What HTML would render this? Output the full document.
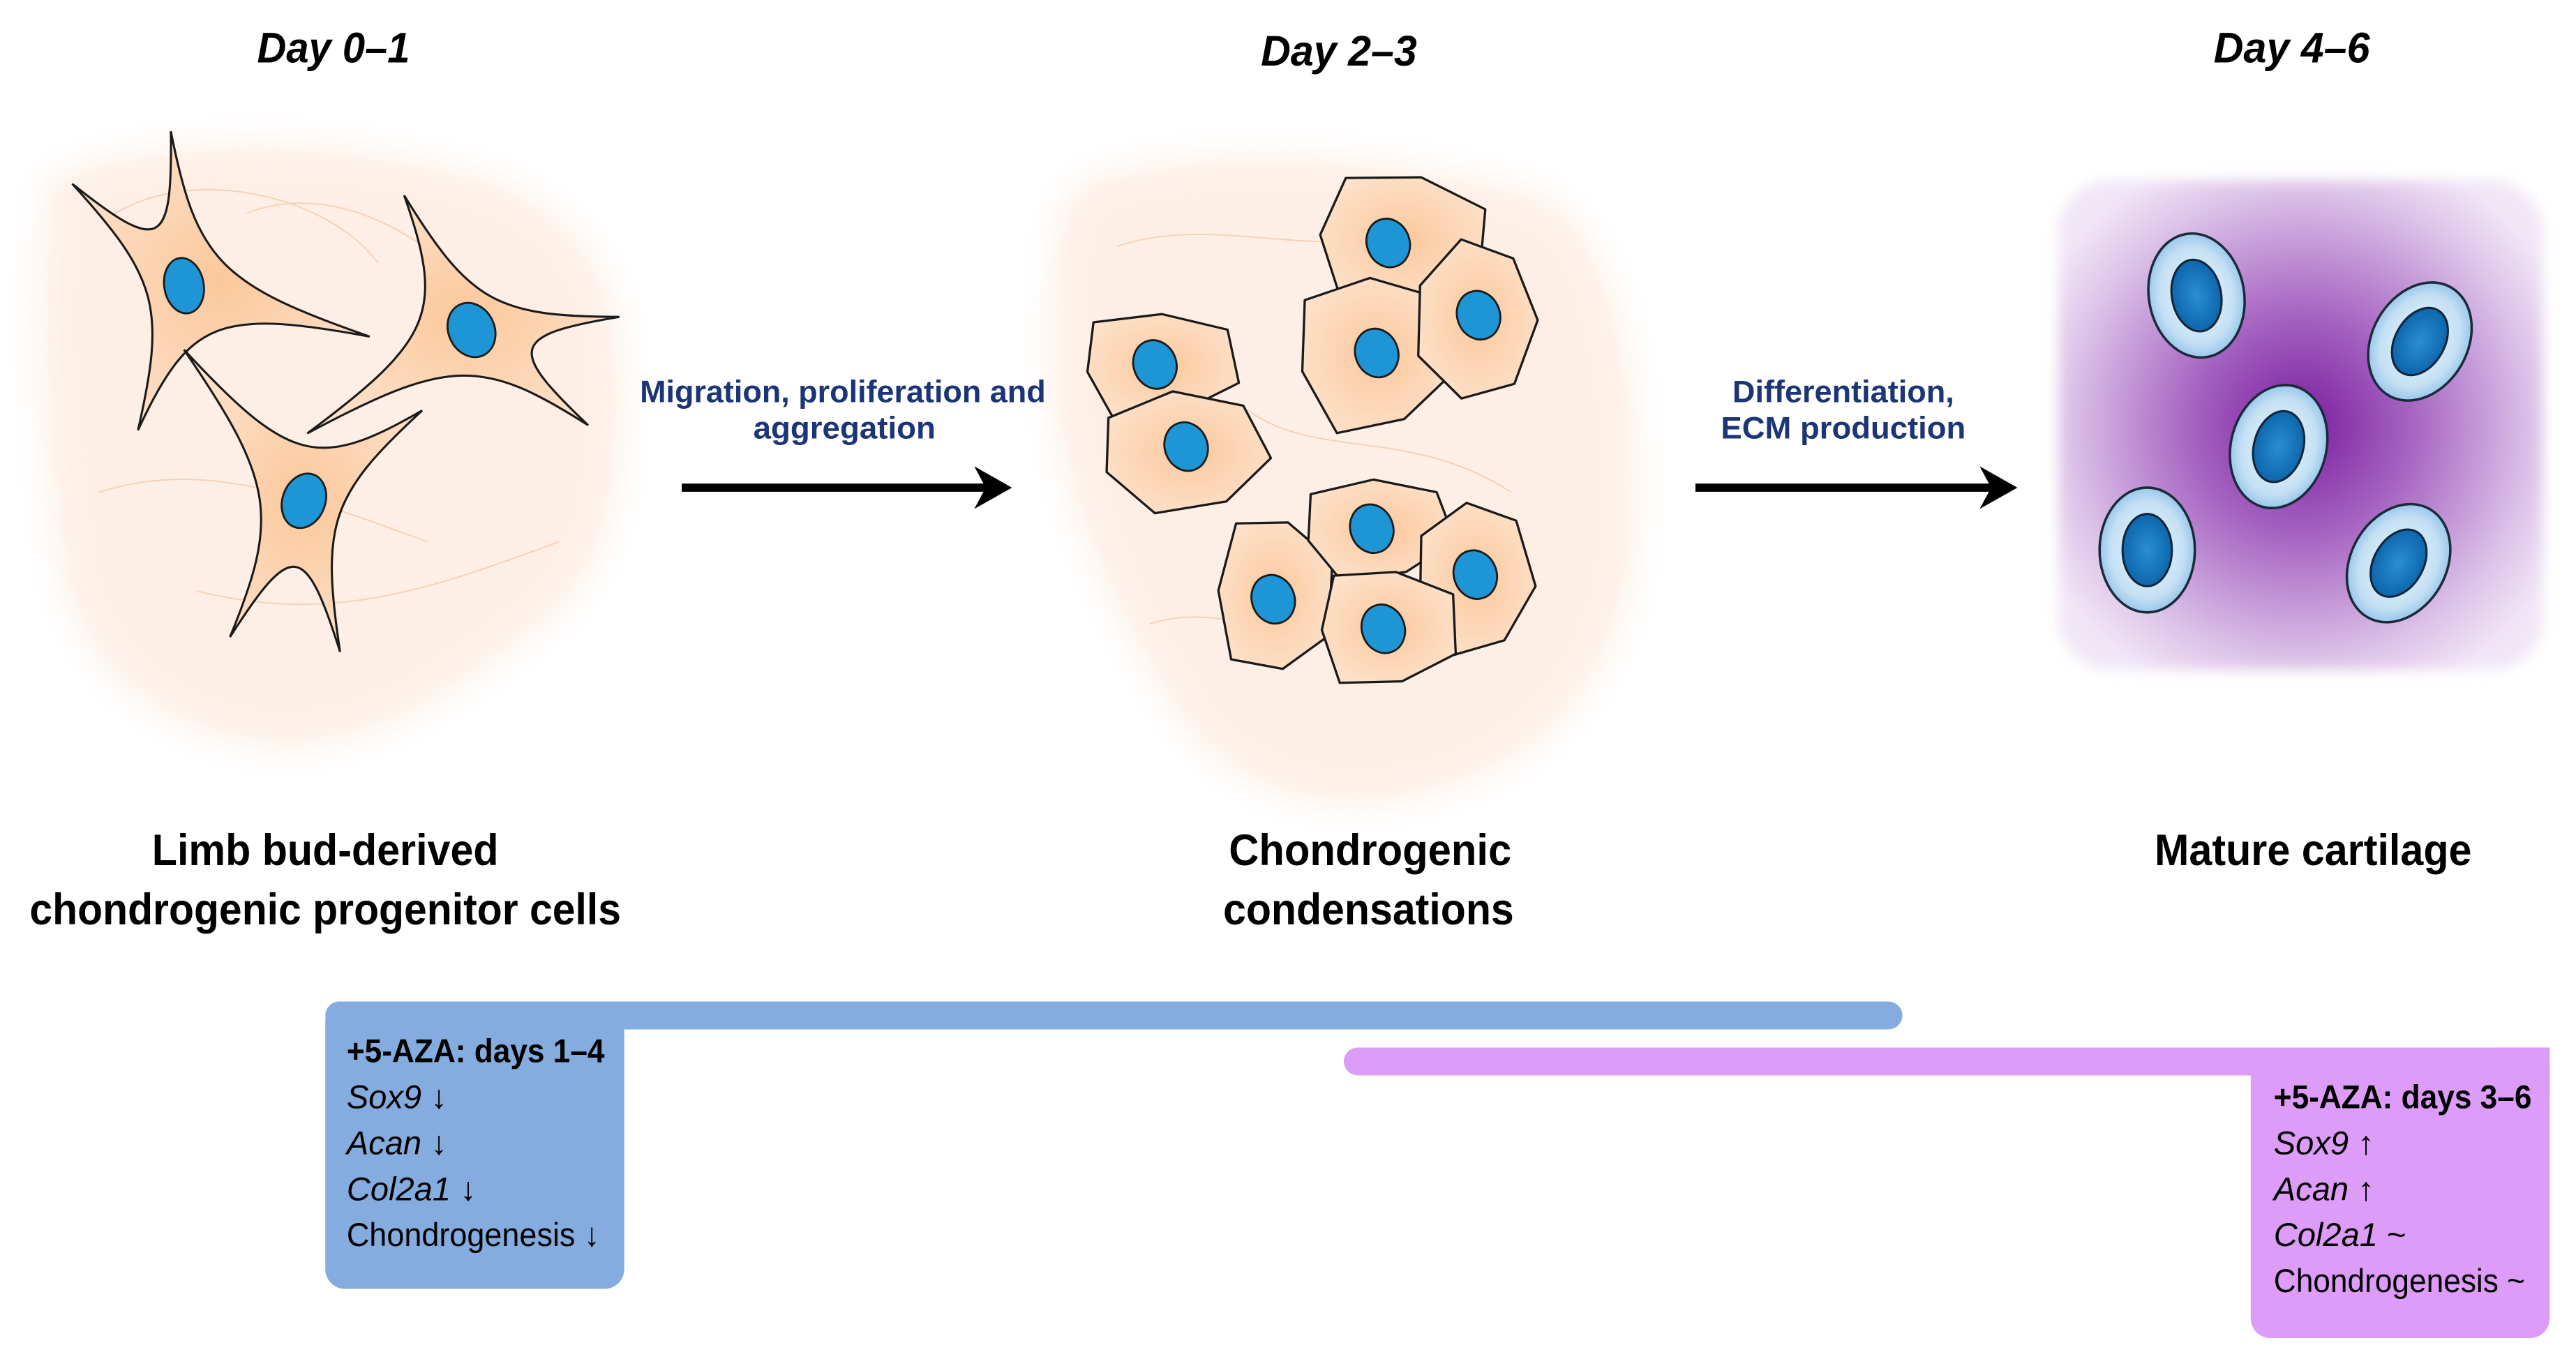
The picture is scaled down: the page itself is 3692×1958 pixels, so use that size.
<!DOCTYPE html>
<html><head><meta charset="utf-8"><style>
html,body{margin:0;padding:0;background:#fff;}
svg{display:block;}
text{font-family:"Liberation Sans",Arial,sans-serif;}
</style></head><body>
<svg id="s" width="3692" height="1958" viewBox="0 0 1568 832" preserveAspectRatio="none" xmlns="http://www.w3.org/2000/svg">
<defs>
<filter id="blur" x="-20%" y="-20%" width="140%" height="140%"><feGaussianBlur stdDeviation="10"/></filter>
<filter id="blur2" x="-20%" y="-20%" width="140%" height="140%"><feGaussianBlur stdDeviation="4"/></filter>
<radialGradient id="peach" cx="50%" cy="50%" r="60%"><stop offset="0" stop-color="#fbc89c"/><stop offset="1" stop-color="#fde3cd"/></radialGradient>
<radialGradient id="purp" cx="50%" cy="50%" r="60%"><stop offset="0" stop-color="#7a1c9e"/><stop offset="0.4" stop-color="#a868c3"/><stop offset="0.8" stop-color="#dcc2e8"/><stop offset="1" stop-color="#f1e6f6"/></radialGradient>
<radialGradient id="lb" cx="50%" cy="50%" r="55%"><stop offset="0" stop-color="#eef7fd"/><stop offset="0.7" stop-color="#c4e0f4"/><stop offset="1" stop-color="#88bde6"/></radialGradient>
<radialGradient id="db" cx="50%" cy="50%" r="55%"><stop offset="0" stop-color="#2a8fd2"/><stop offset="1" stop-color="#0a62a8"/></radialGradient>
</defs>
<g id="bg">
<path d="M30,110 C80,85 180,80 260,100 C330,110 380,150 378,230 C380,300 370,350 330,380 C280,420 230,455 170,455 C110,450 60,420 40,360 C25,280 20,180 30,110 Z" fill="#fdeadd" filter="url(#blur)" opacity="0.75"/>
<path d="M660,110 C740,85 860,95 940,120 C990,150 1000,250 995,330 C990,400 950,460 880,480 C820,500 760,490 720,440 C680,380 640,300 640,220 C640,160 640,130 660,110 Z" fill="#fdeadd" filter="url(#blur)" opacity="0.75"/>
<path d="M70,130 C120,100 200,120 230,160 M150,130 C200,110 260,140 300,190 M60,300 C120,280 180,300 260,330 M120,360 C200,380 260,360 340,330" stroke="#f6d0b4" stroke-width="0.8" fill="none"/>
<path d="M680,150 C740,130 800,160 860,140 M700,380 C760,360 820,420 900,380 M760,250 C800,280 860,260 920,300" stroke="#f6d0b4" stroke-width="0.8" fill="none"/>
<rect x="1253" y="110" width="295" height="298" rx="32" fill="url(#purp)" filter="url(#blur2)"/>
</g>
<g id="cells"></g>

<g fill="#000">
<text x="203" y="38" font-size="26" font-weight="bold" font-style="italic" text-anchor="middle" textLength="93" lengthAdjust="spacingAndGlyphs">Day 0–1</text>
<text x="815" y="40" font-size="26" font-weight="bold" font-style="italic" text-anchor="middle" textLength="95" lengthAdjust="spacingAndGlyphs">Day 2–3</text>
<text x="1395" y="38" font-size="26" font-weight="bold" font-style="italic" text-anchor="middle" textLength="95" lengthAdjust="spacingAndGlyphs">Day 4–6</text>
</g>
<g fill="#1c3577" font-weight="bold" font-size="19" text-anchor="middle">
<text x="513" y="245" textLength="247" lengthAdjust="spacingAndGlyphs">Migration, proliferation and</text>
<text x="514" y="267" textLength="111" lengthAdjust="spacingAndGlyphs">aggregation</text>
<text x="1122" y="245" textLength="135" lengthAdjust="spacingAndGlyphs">Differentiation,</text>
<text x="1122" y="267" textLength="149" lengthAdjust="spacingAndGlyphs">ECM production</text>
</g>
<g>
<line x1="415" y1="297" x2="600" y2="297" stroke="#000" stroke-width="5"/>
<path d="M593,284 L616,297 L593,310 L600,297 Z" fill="#000"/>
<line x1="1032" y1="297" x2="1212" y2="297" stroke="#000" stroke-width="5"/>
<path d="M1205,284 L1228,297 L1205,310 L1212,297 Z" fill="#000"/>
</g>
<g fill="#000" font-weight="bold" font-size="27" text-anchor="middle">
<text x="198" y="527" textLength="211" lengthAdjust="spacingAndGlyphs">Limb bud-derived</text>
<text x="198" y="563" textLength="360" lengthAdjust="spacingAndGlyphs">chondrogenic progenitor cells</text>
<text x="834" y="527" textLength="172" lengthAdjust="spacingAndGlyphs">Chondrogenic</text>
<text x="833" y="563" textLength="177" lengthAdjust="spacingAndGlyphs">condensations</text>
<text x="1408" y="527" textLength="193" lengthAdjust="spacingAndGlyphs">Mature cartilage</text>
</g>
<g>
<rect x="198" y="610" width="960" height="17" rx="8.5" fill="#84acdf"/>
<rect x="198" y="610" width="182" height="175" rx="12" fill="#84acdf"/>
<rect x="818" y="638" width="734" height="17" rx="8.5" fill="#dd9cf8"/>
<rect x="1370" y="638" width="182" height="177" rx="12" fill="#dd9cf8"/>
<rect x="1520" y="638" width="32" height="30" fill="#dd9cf8"/>
</g>
<g fill="#000" font-size="20">
<text x="211" y="647" font-weight="bold" textLength="157" lengthAdjust="spacingAndGlyphs">+5-AZA: days 1–4</text>
<text x="211" y="675"><tspan font-style="italic">Sox9</tspan> ↓</text>
<text x="211" y="703"><tspan font-style="italic">Acan</tspan> ↓</text>
<text x="211" y="731"><tspan font-style="italic">Col2a1</tspan> ↓</text>
<text x="211" y="759" textLength="154" lengthAdjust="spacingAndGlyphs">Chondrogenesis ↓</text>
<text x="1384" y="675" font-weight="bold" textLength="157" lengthAdjust="spacingAndGlyphs">+5-AZA: days 3–6</text>
<text x="1384" y="703"><tspan font-style="italic">Sox9</tspan> ↑</text>
<text x="1384" y="731"><tspan font-style="italic">Acan</tspan> ↑</text>
<text x="1384" y="759"><tspan font-style="italic">Col2a1</tspan> ~</text>
<text x="1384" y="787" textLength="153" lengthAdjust="spacingAndGlyphs">Chondrogenesis ~</text>
</g>
</svg>
<script>
(function(){
var NS="http://www.w3.org/2000/svg",g=document.getElementById("cells");
function el(t,a){var e=document.createElementNS(NS,t);for(var k in a)e.setAttribute(k,a[k]);g.appendChild(e);return e;}
function star(c,tips,n){
 tips.sort(function(a,b){return Math.atan2(a[1]-c[1],a[0]-c[0])-Math.atan2(b[1]-c[1],b[0]-c[0]);});
 var d="M"+tips[0][0]+","+tips[0][1];
 for(var i=0;i<tips.length;i++){var a=tips[i],b=tips[(i+1)%tips.length];
  var c1=[c[0]+0.2*(a[0]-c[0])+0.08*(b[0]-c[0]),c[1]+0.2*(a[1]-c[1])+0.08*(b[1]-c[1])];
  var c2=[c[0]+0.08*(a[0]-c[0])+0.2*(b[0]-c[0]),c[1]+0.08*(a[1]-c[1])+0.2*(b[1]-c[1])];
  d+=" C"+c1[0].toFixed(1)+","+c1[1].toFixed(1)+" "+c2[0].toFixed(1)+","+c2[1].toFixed(1)+" "+b[0]+","+b[1];}
 el("path",{d:d+"Z",fill:"url(#peach)",stroke:"#1a1a1a","stroke-width":"1.3"});
 el("ellipse",{cx:n[0],cy:n[1],rx:n[2],ry:n[3],transform:"rotate("+n[4]+" "+n[0]+" "+n[1]+")",fill:"#1e96d6",stroke:"#1a1a1a","stroke-width":"1.2"});
}
star([112,175],[[104,80],[44,112],[225,205],[84,262]],[112,174,12,17,-10]);
star([287,201],[[246,119],[377,193],[358,259],[187,264]],[287,201,14,17,-25]);
star([185,305],[[112,213],[257,250],[207,397],[140,388]],[185,305,13,17,20]);
function poly(cx,cy,rx,ry,seed){
 var pts=[],n=7;
 for(var i=0;i<n;i++){var an=i/n*2*Math.PI+seed,j=0.95+0.1*Math.sin(i*3.1+seed*5);
  pts.push([cx+rx*j*Math.cos(an),cy+ry*j*Math.sin(an)]);}
 el("path",{d:"M"+pts.map(function(p){return p[0].toFixed(1)+","+p[1].toFixed(1);}).join(" L")+"Z",fill:"url(#peach)",stroke:"#1a1a1a","stroke-width":"1.4","stroke-linejoin":"round"});
}
var P=[[704,222,50,36,0.3,703,222],[720,275,54,40,0.1,722,272],[852,145,55,44,0.5,845,148],[835,215,50,52,0.2,838,215],[898,195,40,52,0.0,900,192],[775,362,38,52,0.5,775,365],[837,322,48,34,0.2,835,322],[897,352,38,50,0.1,898,350],[843,382,45,40,0.4,842,383]];
P.forEach(function(p){poly(p[0],p[1],p[2],p[3],p[4]);el("ellipse",{cx:p[5],cy:p[6],rx:15,ry:13,fill:"#1e96d6",stroke:"#1a1a1a","stroke-width":"1.2",transform:"rotate(70 "+p[5]+" "+p[6]+")"});});
var C=[[1337,180,-10],[1473,208,30],[1387,272,15],[1307,335,0],[1460,343,30]];
C.forEach(function(c){
 el("ellipse",{cx:c[0],cy:c[1],rx:29,ry:38,transform:"rotate("+c[2]+" "+c[0]+" "+c[1]+")",fill:"url(#lb)",stroke:"#1a2a3a","stroke-width":"1.5"});
 el("ellipse",{cx:c[0],cy:c[1],rx:15,ry:22,transform:"rotate("+c[2]+" "+c[0]+" "+c[1]+")",fill:"url(#db)",stroke:"#10243a","stroke-width":"1.3"});
});
})();
</script>
</body></html>
